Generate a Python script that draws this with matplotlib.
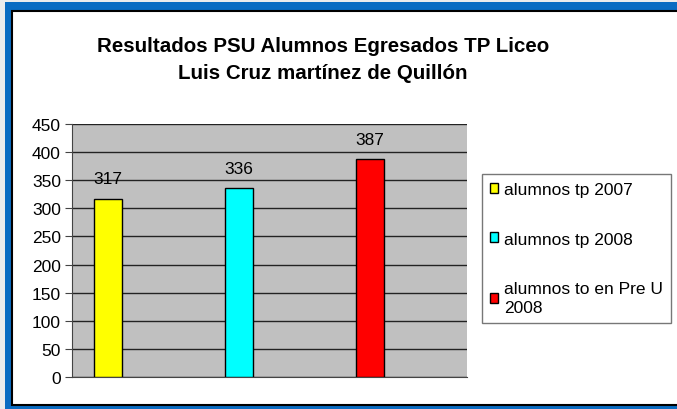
import matplotlib.pyplot as plt
from matplotlib.patches import Rectangle

plt.rcParams['font.family'] = ['Liberation Sans', 'DejaVu Sans']

series = ['alumnos tp 2007', 'alumnos tp 2008', 'alumnos to en Pre U\n2008']
values = [317, 336, 387]
colors = ['#ffff00', '#00ffff', '#ff0000']
yticks = [0, 50, 100, 150, 200, 250, 300, 350, 400, 450]

W, H = 677, 410
fig = plt.figure(figsize=(W / 100, H / 100), dpi=100, facecolor='#ececec')

# blue frame and white chart area
fig.patches.append(Rectangle((5 / W, 0), 1 - 5 / W, 1 - 3 / H, transform=fig.transFigure,
                             facecolor='#0a6cc2', edgecolor='none', zorder=0))
fig.patches.append(Rectangle((12 / W, 4 / H), 1, 1 - 16 / H, transform=fig.transFigure,
                             facecolor='white', edgecolor='black', linewidth=1.5, zorder=1))

ax = fig.add_axes([72 / W, (H - 378) / H, 395 / W, (378 - 125) / H])
ax.set_facecolor('#c0c0c0')
ax.set_zorder(2)

bars = []
for i, (v, c, s) in enumerate(zip(values, colors, series)):
    b = ax.bar(i, v, width=0.22, color=c, edgecolor='black', linewidth=1, label=s, zorder=3)
    bars.append(b)
    ax.annotate(str(v), (i, v), xytext=(0, 20), textcoords='offset pixels',
                ha='center', va='center', fontsize=12.5, zorder=4)

ax.set_xlim(-0.275, 2.74)
ax.set_ylim(0, 450)
ax.set_yticks(yticks)
ax.yaxis.grid(True, color='#222222', linewidth=1)
ax.set_axisbelow(True)
ax.set_xticks([])
ax.tick_params(axis='y', labelsize=12.5, length=5, color='#444444', pad=3)
for side in ['top', 'right']:
    ax.spines[side].set_visible(False)
ax.spines['left'].set_color('#444444')
ax.spines['bottom'].set_color('#444444')

fig.text(323 / W, 1 - 46 / H, 'Resultados PSU Alumnos Egresados TP Liceo',
         ha='center', va='center', fontsize=14.8, fontweight='bold', zorder=5)
fig.text(323 / W, 1 - 74 / H, 'Luis Cruz martínez de Quillón',
         ha='center', va='center', fontsize=14.8, fontweight='bold', zorder=5)

leg = fig.legend(handles=[b[0] for b in bars], labels=series,
                 loc='upper left', bbox_to_anchor=(482 / W, 1 - 175 / H),
                 fontsize=12.5, frameon=True, fancybox=False, labelspacing=2.0,
                 handlelength=0.5, handleheight=0.5, handletextpad=0.3,
                 borderpad=0.45, borderaxespad=0)
for t in leg.get_texts():
    t.set_linespacing(1.35)
leg.get_frame().set_edgecolor('#555555')
leg.get_frame().set_linewidth(1)
leg.set_zorder(6)

fig.savefig('out.png', dpi=100, facecolor=fig.get_facecolor())
